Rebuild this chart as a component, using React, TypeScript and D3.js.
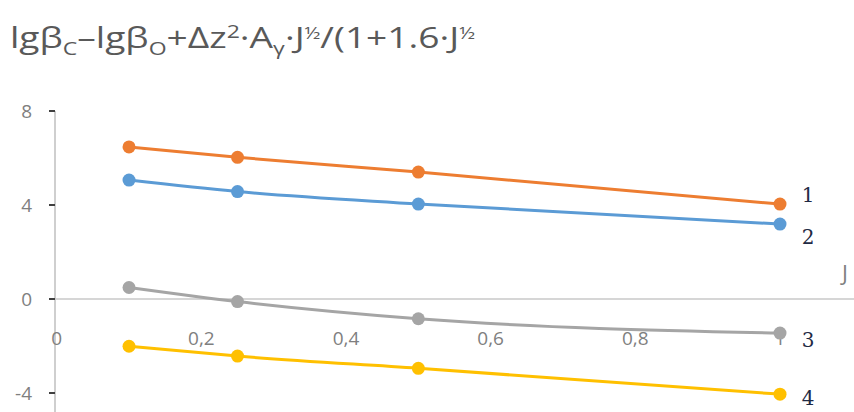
import React from "react";
import * as d3 from "d3";

const xValues = [0.1, 0.25, 0.5, 1.0];
const series1 = [6.47, 6.03, 5.4, 4.04];
const series2 = [5.06, 4.57, 4.04, 3.19];
const series3 = [0.49, -0.11, -0.84, -1.45];
const series4 = [-2.01, -2.43, -2.95, -4.05];
const seriesLabels = ["1", "2", "3", "4"];
const seriesColors = ["#ED7D31", "#5B9BD5", "#A5A5A5", "#FFC000"];
const xTicks = [0, 0.2, 0.4, 0.6, 0.8, 1];
const yTicks = [-4, 0, 4, 8];

const W = 854;
const H = 412;

export default function App() {
  const x = d3.scaleLinear().domain([0, 1]).range([56.7, 780]);
  const y = d3.scaleLinear().domain([-4, 8]).range([393, 111]);
  const allSeries = [series1, series2, series3, series4];
  const line = d3
    .line<number>()
    .x((_, i) => x(xValues[i]))
    .y((d) => y(d))
    .curve(d3.curveMonotoneX);
  const labelY = [195, 237, 340, 398];
  const fmt = (v: number) => (v === 0 || v === 1 ? String(v) : v.toFixed(1).replace(".", ","));
  const axisX = 55;
  return (
    <svg width={W} height={H} style={{ position: "absolute", left: 0, top: 0, background: "#fff" }}>
      <rect x={0} y={0} width={W} height={H} fill="#fff" />
      <text x={10} y={48} fontFamily="Open Sans, sans-serif" fontSize={29} fill="#595959" textLength={465} lengthAdjust="spacingAndGlyphs">
        <tspan>lgβ</tspan>
        <tspan fontSize={18} dy={7}>C</tspan>
        <tspan dy={-7}>–lgβ</tspan>
        <tspan fontSize={18} dy={7}>O</tspan>
        <tspan dy={-7}>+Δz</tspan>
        <tspan fontSize={18} dy={-10}>2</tspan>
        <tspan dy={10}>·A</tspan>
        <tspan fontSize={18} dy={7}>γ</tspan>
        <tspan dy={-7}>·J</tspan>
        <tspan fontSize={16} dy={-9}>½</tspan>
        <tspan dy={9}>/(1+1.6·J</tspan>
        <tspan fontSize={16} dy={-9}>½</tspan>
      </text>
      {/* axes */}
      <line x1={axisX} x2={axisX} y1={y(8)} y2={H} stroke="#BFBFBF" strokeWidth={1.5} />
      <line x1={axisX - 5} x2={W} y1={y(0)} y2={y(0)} stroke="#C8C8C8" strokeWidth={1.5} />
      {yTicks.map((t) => (
        <g key={t}>
          <line x1={axisX - 6} x2={axisX} y1={y(t)} y2={y(t)} stroke="#404040" strokeWidth={2} />
          <text x={32} y={y(t)} dy="0.35em" textAnchor="end" fontFamily="Open Sans, sans-serif" fontSize={19} fill="#7F7F7F">
            {t}
          </text>
        </g>
      ))}
      {xTicks.map((t) => (
        <text key={t} x={x(t)} y={338} dy="0.35em" textAnchor="middle" fontFamily="Open Sans, sans-serif" fontSize={19} fill="#7F7F7F">
          {fmt(t)}
        </text>
      ))}
      {allSeries.map((s, k) => (
        <g key={k}>
          <path d={line(s) || ""} fill="none" stroke={seriesColors[k]} strokeWidth={3} />
          {s.map((v, i) => (
            <circle key={i} cx={x(xValues[i])} cy={y(v)} r={6.5} fill={seriesColors[k]} />
          ))}
        </g>
      ))}
      {seriesLabels.map((l, k) => (
        <text key={l} x={808} y={labelY[k]} dy="0.35em" textAnchor="middle" fontFamily="DejaVu Serif, serif" fontSize={20} fill="#1F2A44">
          {l}
        </text>
      ))}
      <text x={845} y={273} dy="0.35em" textAnchor="middle" fontFamily="Open Sans, sans-serif" fontSize={22} fill="#7F7F7F">
        J
      </text>
    </svg>
  );
}
